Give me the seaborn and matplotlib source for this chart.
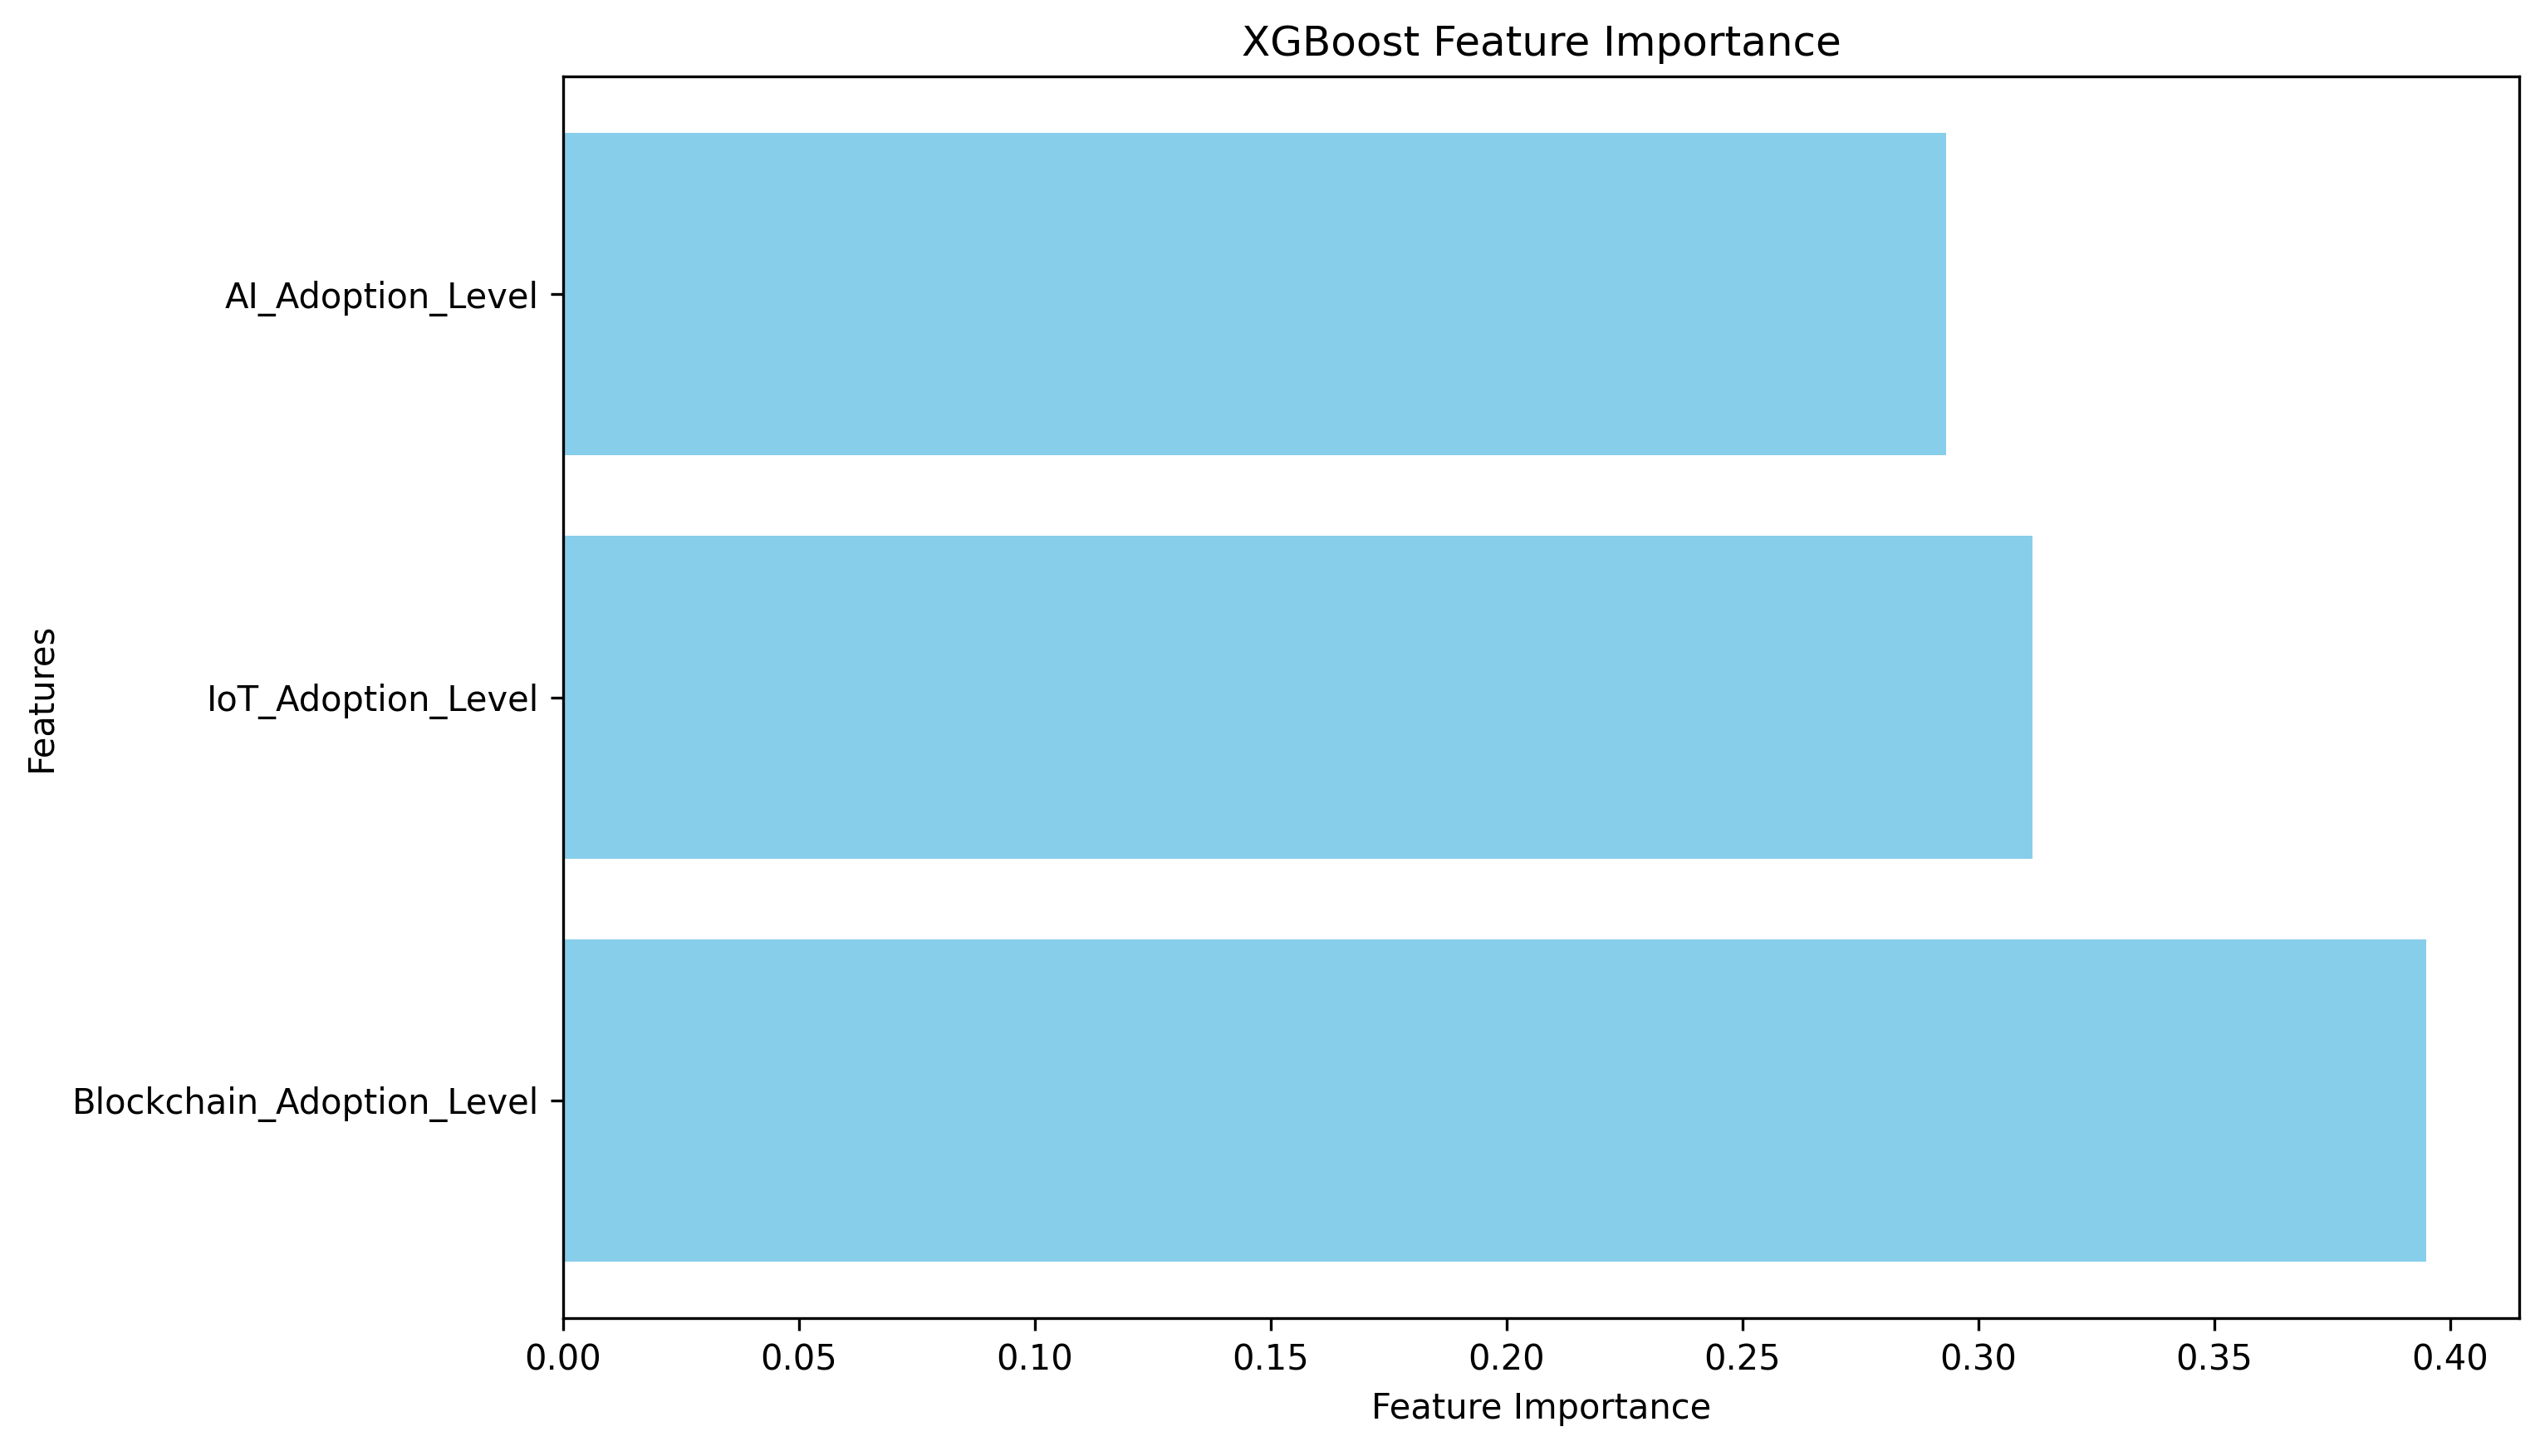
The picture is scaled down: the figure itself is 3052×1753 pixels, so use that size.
import matplotlib
matplotlib.use("Agg")
import matplotlib.pyplot as plt
import seaborn as sns
import pandas as pd

# feature importances
features = ["AI_Adoption_Level", "IoT_Adoption_Level", "Blockchain_Adoption_Level"]
importance = [0.2931, 0.3114, 0.3949]

df = pd.DataFrame({"Feature": features, "Importance": importance})

plt.rcParams["font.family"] = ["DejaVu Sans"]
plt.rcParams["font.size"] = 10

fig = plt.figure(figsize=(3053 / 300, 1753 / 300), dpi=300)
ax = fig.add_axes([0.2221, 0.0947, 0.7713, 0.8528])

sns.barplot(data=df, x="Importance", y="Feature", order=features, orient="h",
            color="skyblue", saturation=1, width=0.8, errorbar=None,
            linewidth=0, ax=ax)

ax.set_ylim(2.54, -0.54)
ax.set_xlim(0, 0.4146)
ax.set_xticks([0.0, 0.05, 0.10, 0.15, 0.20, 0.25, 0.30, 0.35, 0.40])
ax.set_xticklabels([f"{t:.2f}" for t in ax.get_xticks()])

ax.set_title("XGBoost Feature Importance", fontsize=12)
ax.set_xlabel("Feature Importance")
ax.set_ylabel("Features")

fig.savefig("out.png", dpi=300)
